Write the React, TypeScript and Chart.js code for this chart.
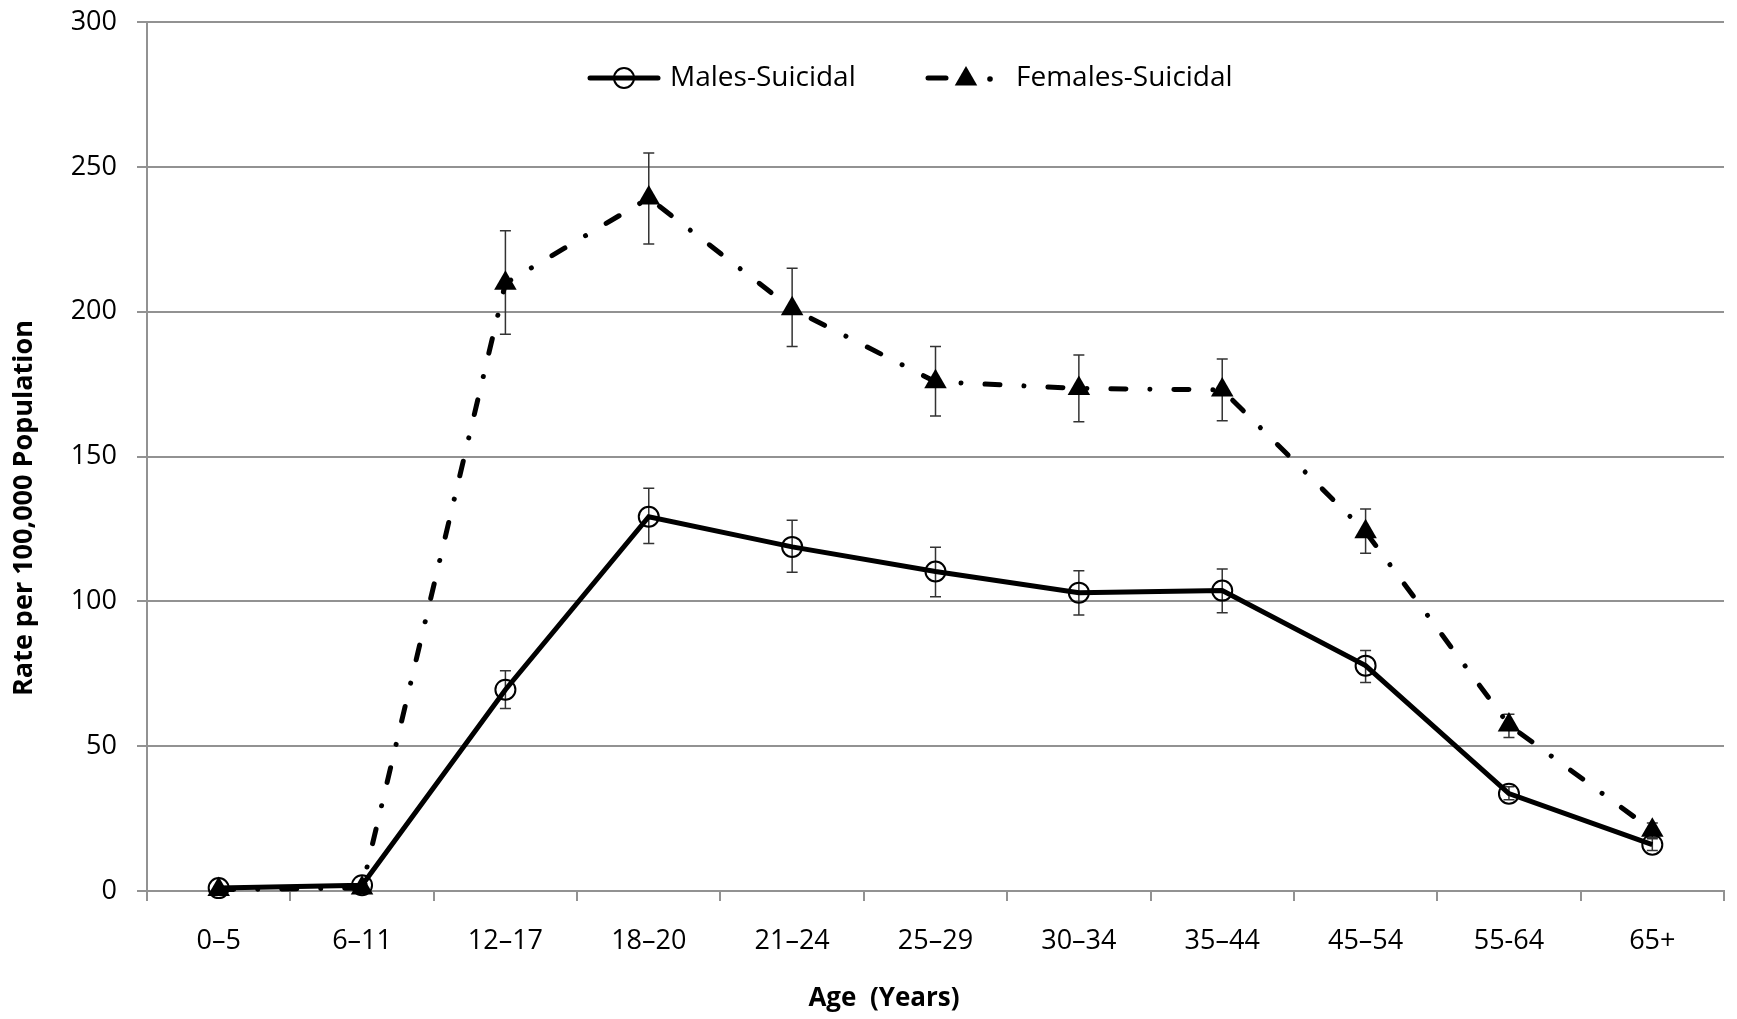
import { useEffect, useRef } from "react";
import { Chart, registerables } from "chart.js";

Chart.register(...registerables);

const categories = ["0–5", "6–11", "12–17", "18–20", "21–24", "25–29", "30–34", "35–44", "45–54", "55-64", "65+"];
const malesRate = [1, 2, 69.5, 129.2, 118.8, 110.3, 103, 103.7, 77.8, 33.6, 16];
const malesLow = [0.5, 1.5, 63, 120, 110, 101.6, 95.3, 96.1, 72, 31.5, 14];
const malesHigh = [1.5, 2.5, 76, 139, 128, 118.7, 110.6, 111.2, 83, 36, 18];
const femalesRate = [0.5, 1, 209.8, 239.2, 201, 175.8, 173.5, 173, 124, 57.3, 21];
const femalesLow = [0.2, 0.5, 192.2, 223.4, 188, 164, 162, 162.3, 116.6, 53, 18.5];
const femalesHigh = [0.8, 1.5, 227.9, 254.8, 215, 188, 185, 183.7, 131.9, 61, 23.5];
const yMin = 0;
const yMax = 300;
const yStep = 50;
const maleLabel = "Males-Suicidal";
const femaleLabel = "Females-Suicidal";
const xTitle = "Age  (Years)";
const yTitle = "Rate per 100,000 Population";

const FONT = "'Open Sans', 'DejaVu Sans', sans-serif";
const GRID = "#929292";

const errorBarsPlugin = {
  id: "errorBars",
  beforeDatasetsDraw(chart: any) {
    const { ctx, scales } = chart;
    const x = scales.x;
    const y = scales.y;
    ctx.save();
    ctx.strokeStyle = "#333333";
    ctx.lineWidth = 1.5;
    const pairs = [
      [malesLow, malesHigh],
      [femalesLow, femalesHigh],
    ];
    pairs.forEach(([lo, hi]) => {
      categories.forEach((_, i) => {
        const px = x.getPixelForValue(i);
        const y1 = y.getPixelForValue(lo[i]);
        const y2 = y.getPixelForValue(hi[i]);
        ctx.beginPath();
        ctx.moveTo(px, y1);
        ctx.lineTo(px, y2);
        ctx.moveTo(px - 5.5, y1);
        ctx.lineTo(px + 5.5, y1);
        ctx.moveTo(px - 5.5, y2);
        ctx.lineTo(px + 5.5, y2);
        ctx.stroke();
      });
    });
    ctx.restore();
  },
};

const decorPlugin = {
  id: "decor",
  afterDraw(chart: any) {
    const { ctx } = chart;
    ctx.save();
    // Legend: males
    const ly = 78;
    ctx.strokeStyle = "#000";
    ctx.fillStyle = "#000";
    ctx.lineWidth = 5;
    ctx.lineCap = "round";
    ctx.beginPath();
    ctx.moveTo(590, ly);
    ctx.lineTo(658, ly);
    ctx.stroke();
    ctx.lineWidth = 2;
    ctx.beginPath();
    ctx.arc(624, ly, 10, 0, Math.PI * 2);
    ctx.stroke();
    ctx.font = `28px ${FONT}`;
    ctx.textBaseline = "middle";
    ctx.textAlign = "left";
    ctx.fillText(maleLabel, 670, ly);
    // Legend: females
    ctx.lineWidth = 5;
    ctx.beginPath();
    ctx.moveTo(928, ly);
    ctx.lineTo(946, ly);
    ctx.stroke();
    const tr = 13;
    const tx = 966;
    const ty = ly + 1;
    ctx.beginPath();
    ctx.moveTo(tx, ty - tr);
    ctx.lineTo(tx + tr * 0.866, ty + tr * 0.5);
    ctx.lineTo(tx - tr * 0.866, ty + tr * 0.5);
    ctx.closePath();
    ctx.fill();
    ctx.beginPath();
    ctx.arc(990, ly + 1, 2.8, 0, Math.PI * 2);
    ctx.fill();
    ctx.fillText(femaleLabel, 1016, ly);
    // Axis titles
    ctx.font = `bold 26px ${FONT}`;
    ctx.textAlign = "center";
    ctx.fillText(xTitle, 884, 999);
    ctx.font = `bold 27px ${FONT}`;
    ctx.translate(24, 508);
    ctx.rotate(-Math.PI / 2);
    ctx.fillText(yTitle, 0, 0);
    ctx.restore();
  },
};

export default function App() {
  const canvasRef = useRef<HTMLCanvasElement | null>(null);

  useEffect(() => {
    const canvas = canvasRef.current;
    if (!canvas) return;
    const chart = new Chart(canvas, {
      type: "line",
      data: {
        labels: categories,
        datasets: [
          {
            label: maleLabel,
            data: malesRate,
            borderColor: "#000",
            borderWidth: 5,
            tension: 0,
            clip: false,
            pointStyle: "circle",
            pointRadius: 10,
            pointBorderWidth: 2,
            pointBorderColor: "#000",
            pointBackgroundColor: "rgba(0,0,0,0)",
          },
          {
            label: femaleLabel,
            data: femalesRate,
            borderColor: "#000",
            borderWidth: 5,
            borderDash: [15, 24, 0.01, 24],
            borderCapStyle: "round",
            tension: 0,
            clip: false,
            pointStyle: "triangle",
            pointRadius: 13,
            pointBorderWidth: 0,
            pointBorderColor: "#000",
            pointBackgroundColor: "#000",
          },
        ],
      },
      options: {
        responsive: false,
        animation: false,
        layout: { padding: { top: 22, right: 4, left: 0, bottom: 0 } },
        plugins: {
          legend: { display: false },
          tooltip: { enabled: false },
        },
        scales: {
          x: {
            type: "category",
            offset: true,
            grid: {
              offset: true,
              drawOnChartArea: false,
              drawTicks: true,
              tickLength: 10,
              color: GRID,
              lineWidth: 2,
            },
            border: { display: true, color: GRID, width: 2 },
            ticks: {
              color: "#000",
              font: { family: FONT, size: 27 },
              padding: 24,
              maxRotation: 0,
              autoSkip: false,
            },
            afterFit(scale: any) {
              scale.height = 128;
              scale.paddingLeft = 0;
              scale.paddingRight = 0;
            },
          },
          y: {
            min: yMin,
            max: yMax,
            grid: {
              color: GRID,
              lineWidth: 2,
              drawTicks: true,
              tickLength: 10,
            },
            border: { display: true, color: GRID, width: 2 },
            ticks: {
              stepSize: yStep,
              color: "#000",
              font: { family: FONT, size: 27 },
              padding: 20,
            },
            afterFit(scale: any) {
              scale.width = 147;
              scale.paddingTop = 0;
              scale.paddingBottom = 0;
            },
          },
        },
      },
      plugins: [errorBarsPlugin, decorPlugin],
    });
    return () => chart.destroy();
  }, []);

  return (
    <div style={{ position: "absolute", left: 0, top: 0, width: 1737, height: 1019, background: "#fff" }}>
      <canvas ref={canvasRef} width={1737} height={1019} style={{ display: "block" }} />
    </div>
  );
}
